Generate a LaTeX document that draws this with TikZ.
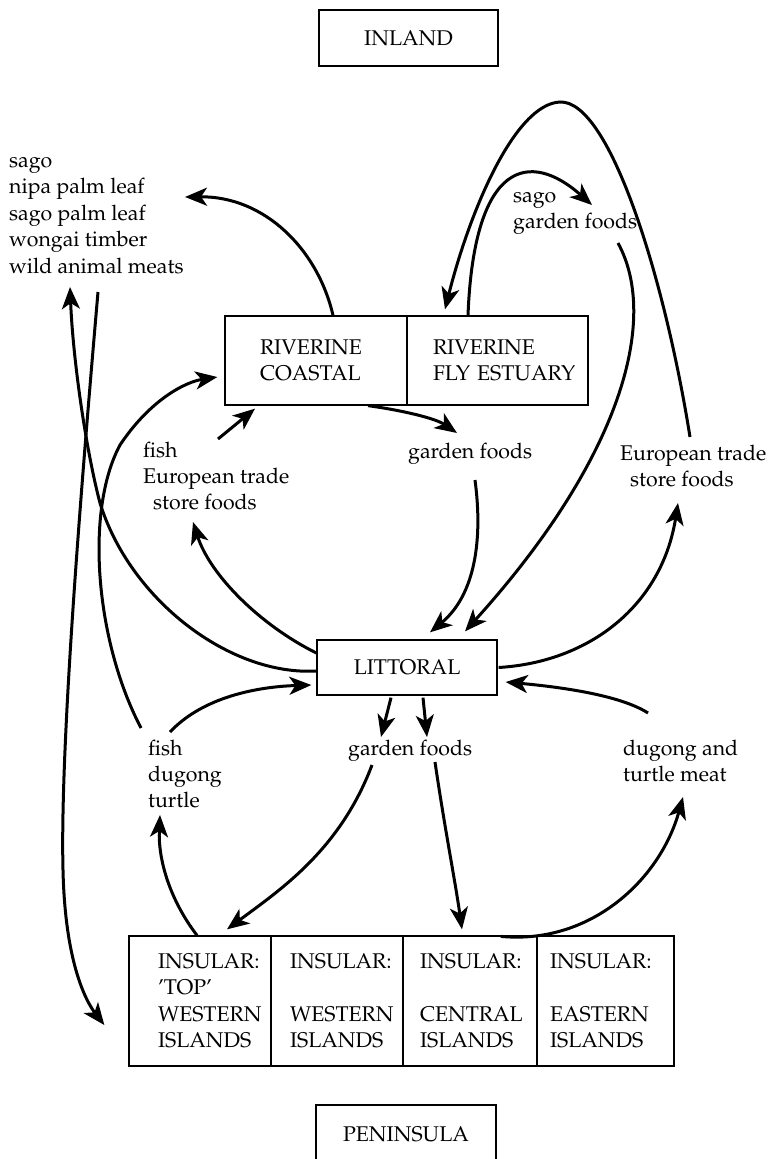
\documentclass[tikz,border=0pt]{standalone}
\usepackage[T1]{fontenc}
\usepackage{mathpazo}
\usetikzlibrary{arrows.meta}

\begin{document}
\begin{tikzpicture}[x=1pt, y=-1pt,
    zone/.style={draw, line width=1.3pt, inner sep=0pt, align=left,
      font={\fontsize{21.3}{26.4}\selectfont\hyphenpenalty=10000}},
    goods/.style={anchor=north west, inner sep=0pt, align=left,
      font=\fontsize{21.3}{26.4}\selectfont},
    flow/.style={line width=3pt, -{Stealth[length=22pt, width=18pt, inset=6pt]}}]
  \useasboundingbox (0,0) rectangle (768,1159);

  % regions
  \node[zone, minimum width=179pt, minimum height=56pt] (inland) at (408.5,38) {INLAND};
  \node[zone, minimum height=89pt, text width=112pt, inner xsep=35pt] (coastal) at (316,360.5) {RIVERINE\\COASTAL};
  \node[zone, minimum height=89pt, text width=129pt, inner xsep=26pt] (fly) at (497.5,360.5) {RIVERINE\\FLY~ESTUARY};
  \node[zone, minimum width=180pt, minimum height=55pt] (littoral) at (407,667.5) {LITTORAL};
  \node[zone, minimum height=130pt, text width=84pt, inner xsep=29pt] (ins1) at (200,1001) {INSULAR:\\'TOP'\\WESTERN\\ISLANDS};
  \node[zone, minimum height=130pt, text width=94pt, inner xsep=19pt] (ins2) at (337,1001) {INSULAR:\\\mbox{}\\WESTERN\\ISLANDS};
  \node[zone, minimum height=130pt, text width=100pt, inner xsep=17pt] (ins3) at (470,1001) {INSULAR:\\\mbox{}\\CENTRAL\\ISLANDS};
  \node[zone, minimum height=130pt, text width=111pt, inner xsep=13pt] (ins4) at (605.5,1001) {INSULAR:\\\mbox{}\\EASTERN\\ISLANDS};
  \node[zone, minimum width=180pt, minimum height=58pt] (peninsula) at (406,1134) {PENINSULA};

  % goods
  \node[goods] (sagoList) at (9,157) {sago\\nipa palm leaf\\sago palm leaf\\wongai timber\\wild animal meats};
  \node[goods] (estuaryGoods) at (513,192) {sago\\garden foods};
  \node[goods] (coastGarden) at (408,442.5) {garden foods};
  \node[goods] (coastGoods) at (143,441.5) {fish\\European trade\\\hspace*{10pt}store foods};
  \node[goods] (storeFoods) at (620,444.5) {European trade\\\hspace*{10pt}store foods};
  \node[goods] (islandCatch) at (148,739.5) {fish\\dugong\\turtle};
  \node[goods] (islandGarden) at (348,739.5) {garden foods};
  \node[goods] (meatLabel) at (623,739.5) {dugong and\\turtle meat};

  % free ends next to the goods
  \coordinate (sagoIn) at (185,197);
  \coordinate (sagoUp) at (70,287);
  \coordinate (sagoDown) at (98,292);
  \coordinate (estuaryIn) at (592,205);
  \coordinate (estuaryOut) at (618,243);
  \coordinate (storeUp) at (690,437);
  \coordinate (storeIn) at (678,503);
  \coordinate (gardenIn) at (457,433);
  \coordinate (gardenOut) at (475,480);
  \coordinate (goodsOut) at (218,439);
  \coordinate (goodsIn) at (193,522);
  \coordinate (catchUp) at (141,728);
  \coordinate (catchOut) at (170,732);
  \coordinate (catchIn) at (160,815);
  \coordinate (islGardenInL) at (381,737);
  \coordinate (islGardenInR) at (427,737);
  \coordinate (islGardenOutL) at (372,765);
  \coordinate (islGardenOutR) at (435,762);
  \coordinate (meatIn) at (683,797);
  \coordinate (meatOut) at (648,713);

  % riverine exchanges
  \draw[flow] ([shift={(17,0)}]coastal.north) .. controls (318,250) and (265,196) .. (sagoIn);
  \draw[flow] ([shift={(-29.5,0)}]fly.north) .. controls (474,160) and (530,150) .. (estuaryIn);
  \draw[flow] (storeUp) .. controls (665,280) and (610,100) .. (560,102)
    .. controls (515,104) and (470,210) .. ([shift={(-52.5,-6)}]fly.north);
  \draw[flow] (estuaryOut) .. controls (660,320) and (620,460) .. ([shift={(58,-8)}]littoral.north);
  \draw[flow] ([shift={(52,0)}]coastal.south) .. controls (400,410) and (435,418) .. (gardenIn);
  \draw[flow] (gardenOut) .. controls (483,540) and (475,595) .. ([shift={(23,-7)}]littoral.north);
  \draw[flow] (goodsOut) -- ([shift={(-61,3)}]coastal.south);
  \draw[flow] ([shift={(0,-14.5)}]littoral.west) .. controls (260,625) and (210,575) .. (goodsIn);
  \draw[flow] ([shift={(0,3.5)}]littoral.west) .. controls (230,676) and (130,600) .. (100,503)
    .. controls (86,450) and (73,360) .. (sagoUp);
  \draw[flow] (catchUp) .. controls (95,640) and (85,510) .. (120,445)
    .. controls (150,400) and (185,382) .. ([shift={(-7,16.5)}]coastal.west);
  \draw[flow] (sagoDown) .. controls (80,500) and (60,750) .. (63,870)
    .. controls (65,960) and (85,1000) .. ([shift={(-24,24)}]ins1.west);
  \draw[flow] ([shift={(1,0)}]littoral.east) .. controls (590,662) and (662,605) .. (storeIn);

  % island exchanges
  \draw[flow] (catchOut) .. controls (200,700) and (250,687) .. ([shift={(-5,17.5)}]littoral.west);
  \draw[flow] ([shift={(-3,0)}]ins1.north) .. controls (170,900) and (158,860) .. (catchIn);
  \draw[flow] ([shift={(-16,2)}]littoral.south) -- (islGardenInL);
  \draw[flow] ([shift={(16,2)}]littoral.south) -- (islGardenInR);
  \draw[flow] (islGardenOutL) .. controls (340,850) and (280,890) .. ([shift={(27,-6)}]ins1.north);
  \draw[flow] (islGardenOutR) .. controls (445,830) and (455,880) .. ([shift={(-8,-6)}]ins3.north);
  \draw[flow] ([shift={(-37,1)}]ins3.north east) .. controls (590,945) and (660,880) .. (meatIn);
  \draw[flow] (meatOut) .. controls (620,695) and (560,687) .. ([shift={(8,14.5)}]littoral.east);
\end{tikzpicture}
\end{document}
